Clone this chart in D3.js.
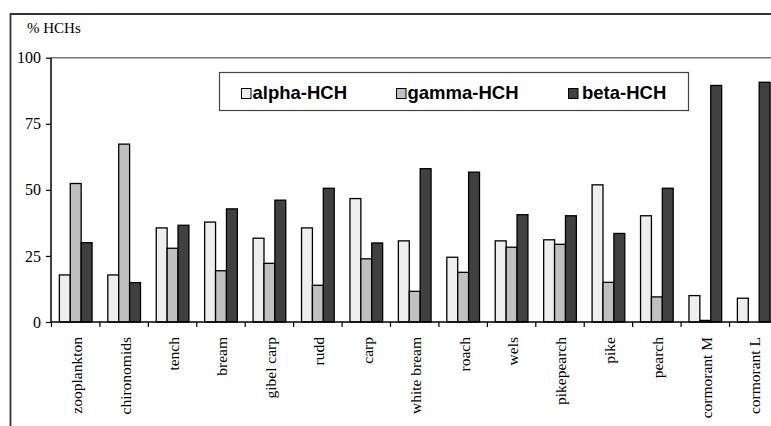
<!DOCTYPE html>
<html>
<head>
<meta charset="utf-8">
<script src="https://cdn.jsdelivr.net/npm/d3@7"></script>
<style>
  html, body { margin: 0; padding: 0; background: #fff; }
  svg { display: block; }
</style>
</head>
<body>
<div id="chart"></div>
<script>
// categories and series (% of total HCHs)
const categories = ["zooplankton", "chironomids", "tench", "bream", "gibel carp", "rudd", "carp",
    "white bream", "roach", "wels", "pikepearch", "pike", "pearch", "cormorant M", "cormorant L"];
const seriesNames = ["alpha-HCH", "gamma-HCH", "beta-HCH"];
const alphaHCH = [17.8, 17.8, 35.6, 37.8, 31.7, 35.6, 46.7, 30.7, 24.5, 30.7, 31.1, 51.9, 40.2, 10.0, 9.0];
const gammaHCH = [52.4, 67.3, 27.9, 19.4, 22.2, 13.9, 23.9, 11.6, 18.8, 28.3, 29.4, 15.0, 9.5, 0.6, 0];
const betaHCH  = [30.0, 14.9, 36.6, 42.8, 46.1, 50.6, 29.9, 58.0, 56.7, 40.6, 40.2, 33.5, 50.6, 89.5, 90.7];
const yTicks = [0, 25, 50, 75, 100];
const seriesColors = ["#eeeeee", "#c0c0c0", "#404040"];

const width = 771, height = 426;
const seriesValues = [alphaHCH, gammaHCH, betaHCH];

const svg = d3.select('#chart')
    .append('svg')
    .attr('width', width)
    .attr('height', height);

// outer frame (top and left edges only, the rest is cropped)
svg.append('line')
    .attr('x1', 10).attr('x2', width).attr('y1', 14).attr('y2', 14)
    .style('stroke', '#333').style('stroke-width', 1.8);
svg.append('line')
    .attr('x1', 10.5).attr('x2', 10.5).attr('y1', 13).attr('y2', height)
    .style('stroke', '#333').style('stroke-width', 1.8);

// scales
const x0 = d3.scaleBand()
    .domain(categories)
    .range([51.5, 51.5 + 48.43 * categories.length])
    .padding(0);

const x1 = d3.scaleBand()
    .domain(seriesNames)
    .range([x0.bandwidth() * 0.1625, x0.bandwidth() * 0.8375])
    .padding(0);

const y = d3.scaleLinear()
    .domain([0, 100])
    .range([322, 57.7]);

// top gridline (100)
svg.append('line')
    .attr('x1', 51).attr('x2', width)
    .attr('y1', y(100)).attr('y2', y(100))
    .style('stroke', '#777').style('stroke-width', 1.6);

// y axis title
svg.append('text')
    .attr('x', 27)
    .attr('y', 33)
    .text('% HCHs')
    .style('font-family', '"Liberation Serif", "Times New Roman", serif')
    .style('font-size', '15px')
    .style('fill', '#000');

// bars
const groups = svg.append('g')
    .selectAll('g')
    .data(categories)
    .join('g')
    .attr('transform', d => `translate(${x0(d)},0)`);

groups.selectAll('rect')
    .data((d, i) => seriesNames.map((s, j) => ({ s, v: seriesValues[j][i], j })))
    .join('rect')
    .attr('x', d => x1(d.s))
    .attr('width', x1.bandwidth())
    .attr('y', d => y(d.v))
    .attr('height', d => y(0) - y(d.v))
    .style('fill', d => seriesColors[d.j])
    .style('stroke', '#000')
    .style('stroke-width', 1.3);

// y axis
const yAxis = svg.append('g')
    .attr('transform', 'translate(51,0)')
    .call(d3.axisLeft(y).tickValues(yTicks).tickSize(5).tickPadding(5));
yAxis.select('.domain').attr('d', `M0,${y(100)}V${y(0)}`).style('stroke-width', 1.5);
yAxis.selectAll('.tick line').style('stroke-width', 1.2);
yAxis.selectAll('text')
    .style('font-family', '"Liberation Serif", "Times New Roman", serif')
    .style('font-size', '16px')
    .style('fill', '#000');

// x axis with ticks at band boundaries
const xAxis = svg.append('g');
xAxis.append('line')
    .attr('x1', 51).attr('x2', width)
    .attr('y1', y(0)).attr('y2', y(0))
    .style('stroke', '#000').style('stroke-width', 1.5);
xAxis.selectAll('line.tk')
    .data(categories)
    .join('line')
    .attr('class', 'tk')
    .attr('x1', d => x0(d)).attr('x2', d => x0(d))
    .attr('y1', y(0)).attr('y2', y(0) + 5)
    .style('stroke', '#000').style('stroke-width', 1.2);

xAxis.selectAll('text')
    .data(categories)
    .join('text')
    .attr('transform', d => `translate(${x0(d) + x0.bandwidth() / 2 + 1},337) rotate(-90)`)
    .attr('dy', '0.35em')
    .attr('text-anchor', 'end')
    .text(d => d)
    .style('font-family', '"Liberation Serif", "Times New Roman", serif')
    .style('font-size', '15.5px')
    .style('fill', '#000');

// legend
const legend = svg.append('g');
legend.append('rect')
    .attr('x', 219.5).attr('y', 72.5)
    .attr('width', 469).attr('height', 38)
    .style('fill', '#fff')
    .style('stroke', '#444')
    .style('stroke-width', 1.2);

const legendX = [241, 396, 568];
const item = legend.selectAll('g')
    .data(seriesNames)
    .join('g')
    .attr('transform', (d, i) => `translate(${legendX[i]},0)`);
item.append('rect')
    .attr('x', 0.5).attr('y', 88.5)
    .attr('width', 9.5).attr('height', 10)
    .style('fill', (d, i) => seriesColors[i])
    .style('stroke', '#000')
    .style('stroke-width', 1);
item.append('text')
    .attr('x', (d, i) => i === 2 ? 14 : 11.5)
    .attr('y', 98.5)
    .text(d => d)
    .style('font-family', '"Liberation Sans", Arial, sans-serif')
    .style('font-weight', 'bold')
    .style('font-size', '18.5px')
    .style('fill', '#000');
</script>
</body>
</html>
